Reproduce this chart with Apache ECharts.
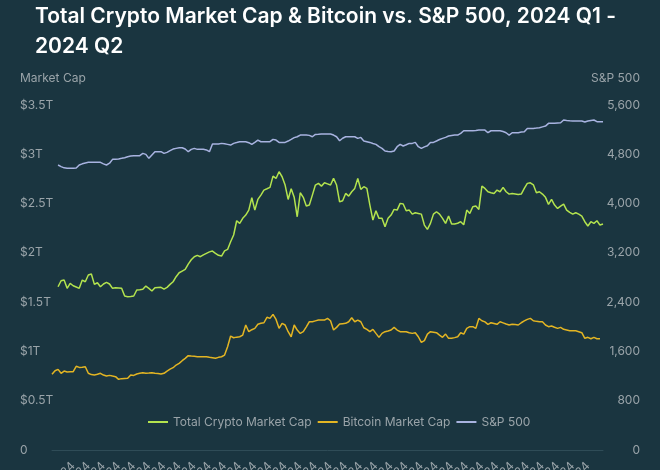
<!DOCTYPE html>
<html><head><meta charset="utf-8">
<script src="https://cdn.jsdelivr.net/npm/echarts@6/dist/echarts.min.js"></script>
<style>html,body{margin:0;padding:0;background:#1a3540;}#c{width:660px;height:470px;}</style>
</head><body><div id="c"></div>
<script>
// x categories: daily dates
const monthNames = ['Jan','Feb','Mar','Apr','May','Jun','Jul','Aug','Sep','Oct','Nov','Dec'];
const categories = [];
(function () {
  const d = new Date(Date.UTC(2023, 11, 31));
  for (let i = 0; i < 183; i++) {
    categories.push(monthNames[d.getUTCMonth()] + ' ' + d.getUTCDate() + ', ' + d.getUTCFullYear());
    d.setUTCDate(d.getUTCDate() + 1);
  }
})();

// Total crypto market cap, trillions USD
const totalCrypto = [
  null, null, 1.656, 1.717, 1.724, 1.640, 1.690, 1.666, 1.653, 1.640,
  1.724, 1.707, 1.775, 1.785, 1.680, 1.697, 1.656, 1.684, 1.700, 1.684,
  1.640, 1.646, 1.643, 1.640, 1.562, 1.555, 1.558, 1.562, 1.623, 1.626,
  1.630, 1.663, 1.640, 1.613, 1.646, 1.648, 1.650, 1.633, 1.650, 1.680,
  1.707, 1.758, 1.798, 1.815, 1.832, 1.886, 1.930, 1.961, 1.974, 1.961,
  1.980, 1.995, 2.010, 2.018, 1.995, 1.975, 1.968, 2.020, 2.035, 2.113,
  2.181, 2.326, 2.299, 2.350, 2.383, 2.434, 2.559, 2.434, 2.542, 2.586,
  2.637, 2.650, 2.664, 2.779, 2.755, 2.823, 2.772, 2.688, 2.542, 2.650,
  2.563, 2.366, 2.610, 2.563, 2.475, 2.485, 2.586, 2.688, 2.705, 2.677,
  2.711, 2.700, 2.688, 2.755, 2.688, 2.518, 2.528, 2.603, 2.576, 2.620,
  2.654, 2.755, 2.644, 2.671, 2.654, 2.485, 2.333, 2.427, 2.350, 2.350,
  2.265, 2.350, 2.383, 2.441, 2.434, 2.502, 2.495, 2.427, 2.434, 2.393,
  2.407, 2.400, 2.393, 2.282, 2.238, 2.299, 2.393, 2.417, 2.393, 2.350,
  2.299, 2.373, 2.292, 2.292, 2.300, 2.316, 2.285, 2.434, 2.400, 2.468,
  2.475, 2.441, 2.677, 2.654, 2.620, 2.610, 2.603, 2.637, 2.620, 2.664,
  2.620, 2.596, 2.603, 2.598, 2.593, 2.596, 2.654, 2.705, 2.711, 2.690,
  2.610, 2.620, 2.596, 2.563, 2.492, 2.542, 2.485, 2.451, 2.475, 2.495,
  2.434, 2.410, 2.393, 2.407, 2.393, 2.373, 2.316, 2.272, 2.316, 2.299,
  2.326, 2.282, 2.292
];

// Bitcoin market cap, trillions USD
const bitcoinCap = [
  0.768, 0.804, 0.818, 0.778, 0.801, 0.791, 0.793, 0.794, 0.849, 0.838,
  0.840, 0.845, 0.778, 0.765, 0.761, 0.768, 0.778, 0.760, 0.750, 0.757,
  0.750, 0.744, 0.717, 0.724, 0.726, 0.727, 0.761, 0.757, 0.771, 0.778,
  0.784, 0.778, 0.780, 0.784, 0.778, 0.775, 0.771, 0.778, 0.801, 0.820,
  0.835, 0.862, 0.879, 0.906, 0.930, 0.957, 0.953, 0.950, 0.946, 0.946,
  0.946, 0.946, 0.940, 0.935, 0.930, 0.940, 0.946, 0.963, 1.048, 1.156,
  1.139, 1.145, 1.149, 1.166, 1.268, 1.200, 1.220, 1.234, 1.275, 1.285,
  1.291, 1.346, 1.335, 1.376, 1.325, 1.234, 1.285, 1.268, 1.200, 1.149,
  1.268, 1.217, 1.183, 1.200, 1.250, 1.301, 1.301, 1.310, 1.318, 1.318,
  1.318, 1.335, 1.311, 1.217, 1.244, 1.278, 1.282, 1.285, 1.301, 1.342,
  1.301, 1.318, 1.301, 1.240, 1.224, 1.200, 1.224, 1.183, 1.143, 1.183,
  1.200, 1.207, 1.217, 1.244, 1.217, 1.200, 1.200, 1.200, 1.190, 1.183,
  1.190, 1.149, 1.092, 1.109, 1.176, 1.200, 1.195, 1.190, 1.166, 1.143,
  1.176, 1.133, 1.133, 1.140, 1.149, 1.190, 1.176, 1.234, 1.251, 1.251,
  1.234, 1.335, 1.311, 1.300, 1.275, 1.291, 1.283, 1.275, 1.301, 1.290,
  1.278, 1.268, 1.275, 1.272, 1.268, 1.291, 1.310, 1.325, 1.335, 1.311,
  1.305, 1.301, 1.301, 1.268, 1.251, 1.258, 1.245, 1.234, 1.244, 1.224,
  1.217, 1.210, 1.210, 1.210, 1.200, 1.190, 1.133, 1.143, 1.129, 1.143,
  1.129, 1.129, null
];

// S&P 500 index level
const sp500 = [
  null, null, 4626, 4600, 4580, 4572, 4572, 4572, 4577, 4626,
  4645, 4660, 4669, 4669, 4669, 4669, 4669, 4645, 4626, 4655,
  4718, 4718, 4725, 4734, 4745, 4760, 4772, 4777, 4777, 4777,
  4815, 4799, 4734, 4788, 4842, 4842, 4842, 4815, 4831, 4860,
  4885, 4896, 4905, 4907, 4885, 4842, 4880, 4896, 4880, 4880,
  4880, 4870, 4842, 4966, 4966, 4966, 4977, 4970, 4961, 4950,
  4977, 4990, 5004, 5004, 5004, 4988, 4961, 4993, 5031, 5004,
  5004, 5004, 5004, 5042, 5031, 4993, 4993, 4993, 5015, 5042,
  5070, 5085, 5112, 5112, 5112, 5107, 5085, 5123, 5125, 5128,
  5128, 5128, 5128, 5112, 5085, 5020, 5060, 5085, 5085, 5085,
  5085, 5058, 5074, 5015, 5004, 4993, 4975, 4961, 4923, 4896,
  4853, 4845, 4842, 4853, 4923, 4961, 4934, 4955, 4977, 4977,
  4993, 4923, 4896, 4920, 4939, 4993, 4993, 5015, 5040, 5058,
  5074, 5096, 5105, 5112, 5112, 5139, 5182, 5182, 5182, 5182,
  5185, 5193, 5193, 5193, 5150, 5182, 5182, 5182, 5182, 5170,
  5150, 5112, 5150, 5150, 5150, 5160, 5166, 5220, 5220, 5220,
  5225, 5231, 5245, 5258, 5302, 5302, 5302, 5308, 5312, 5356,
  5350, 5345, 5342, 5339, 5339, 5339, 5323, 5339, 5350, 5356,
  5329, 5329, 5329
];

const seriesNames = ['Total Crypto Market Cap', 'Bitcoin Market Cap', 'S&P 500'];
const titleText = 'Total Crypto Market Cap & Bitcoin vs. S&P 500, 2024 Q1 -\n2024 Q2';

const grey = '#9aa4a9';
const chart = echarts.init(document.getElementById('c'), null, { renderer: 'canvas' });
chart.setOption({
  backgroundColor: '#1a3540',
  animation: false,
  textStyle: { fontFamily: 'Inter' },
  title: {
    text: titleText,
    left: 30, top: -3,
    textStyle: { color: '#ffffff', fontSize: 21, fontWeight: 600, fontFamily: 'Inter', lineHeight: 30 }
  },
  legend: {
    left: 143, top: 411,
    icon: 'rect',
    itemWidth: 20, itemHeight: 2, itemGap: 6,
    textStyle: { color: grey, fontSize: 12, fontFamily: 'Inter' },
    data: seriesNames
  },
  grid: { left: 52, right: 57, top: 105, bottom: 20, containLabel: false, outerBoundsMode: 'none' },
  xAxis: {
    type: 'category',
    data: categories,
    boundaryGap: false,
    axisLine: { show: true, lineStyle: { color: '#2f4c57', width: 1 } },
    axisTick: { show: false },
    splitLine: { show: false },
    axisLabel: {
      color: grey, fontSize: 12, rotate: 45, margin: 14,
      interval: function (i) { return (i - 2) % 5 === 0; }
    }
  },
  yAxis: [
    {
      type: 'value', min: 0, max: 3.5, interval: 0.5,
      name: 'Market Cap', nameLocation: 'end', nameGap: 21,
      nameTextStyle: { color: grey, fontSize: 12, align: 'left', padding: [0, 0, 0, -32] },
      axisLine: { show: false }, axisTick: { show: false }, splitLine: { show: false },
      axisLabel: {
        color: grey, fontSize: 12, align: 'left', margin: 32,
        formatter: function (v) { return v === 0 ? '0' : '$' + v + 'T'; }
      }
    },
    {
      type: 'value', min: 0, max: 5600, interval: 800, position: 'right',
      name: 'S&P 500', nameLocation: 'end', nameGap: 21,
      nameTextStyle: { color: grey, fontSize: 12, align: 'right', padding: [0, -37, 0, 0] },
      axisLine: { show: false }, axisTick: { show: false }, splitLine: { show: false },
      axisLabel: {
        color: grey, fontSize: 12, align: 'right', margin: 37,
        formatter: function (v) { return v.toLocaleString('en-US'); }
      }
    }
  ],
  series: [
    { name: seriesNames[0], type: 'line', yAxisIndex: 0, data: totalCrypto, symbol: 'none',
      lineStyle: { color: '#b3e34e', width: 1.5 }, itemStyle: { color: '#b3e34e' } },
    { name: seriesNames[1], type: 'line', yAxisIndex: 0, data: bitcoinCap, symbol: 'none',
      lineStyle: { color: '#e3b523', width: 1.5 }, itemStyle: { color: '#e3b523' } },
    { name: seriesNames[2], type: 'line', yAxisIndex: 1, data: sp500, symbol: 'none',
      lineStyle: { color: '#a8b3e0', width: 1.5 }, itemStyle: { color: '#a8b3e0' } }
  ]
});
</script>
</body></html>
